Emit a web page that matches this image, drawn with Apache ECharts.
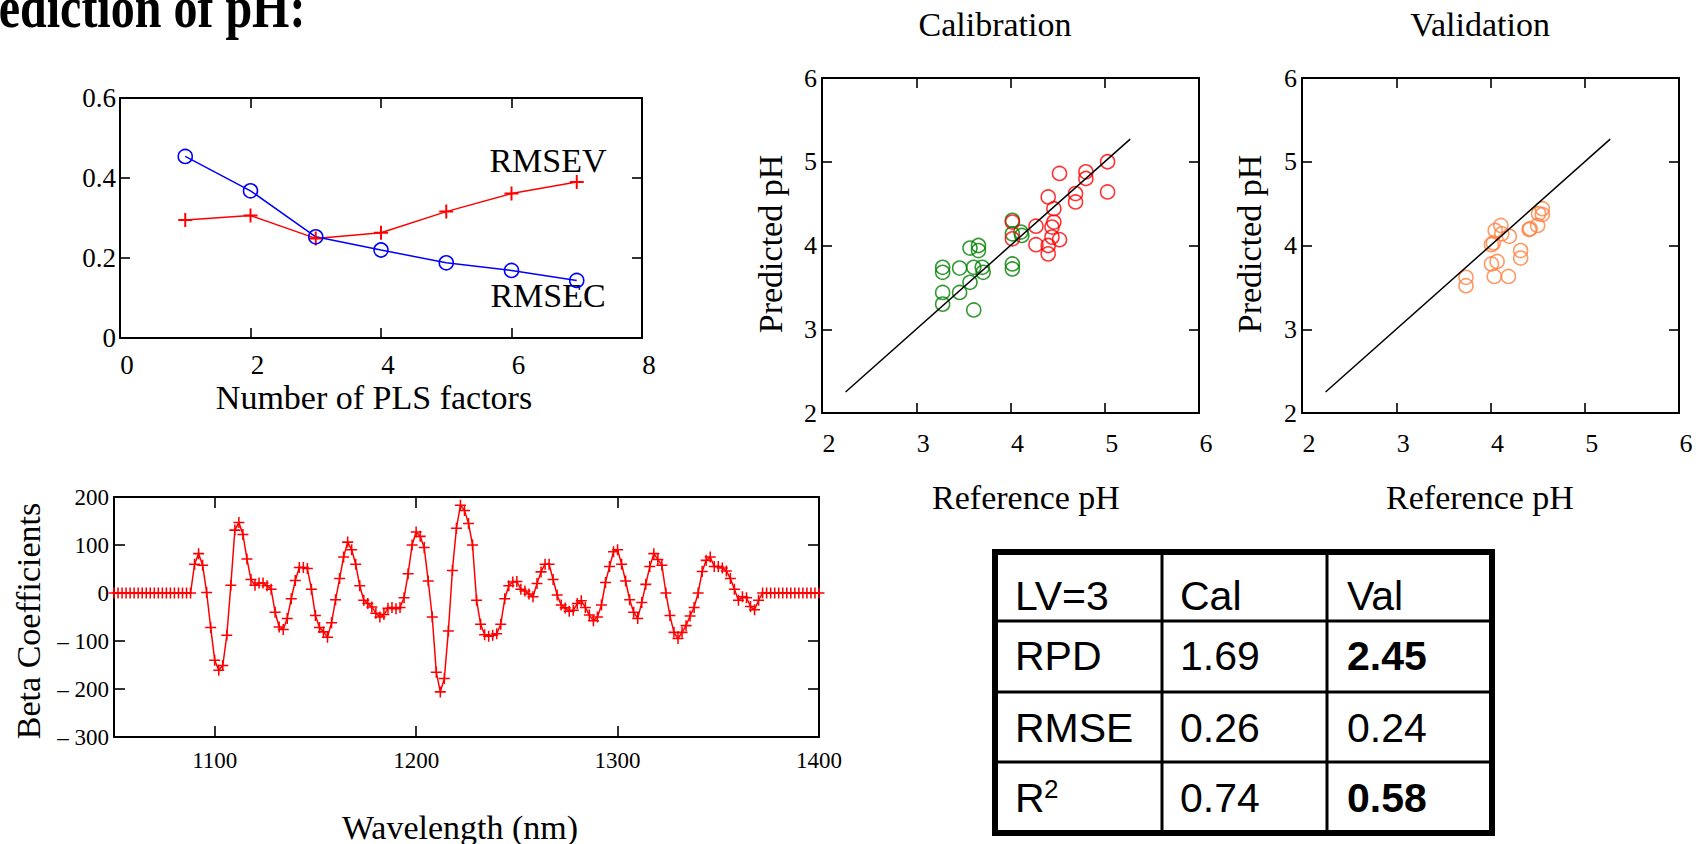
<!DOCTYPE html>
<html><head><meta charset="utf-8">
<script src="https://cdn.jsdelivr.net/npm/echarts@6/dist/echarts.min.js"></script>
<style>html,body{margin:0;padding:0;background:#fff;overflow:hidden}#chart{width:1702px;height:844px}</style>
</head><body><div id="chart"></div>
<script>
// ---------- data ----------
const plsFactors = [1, 2, 3, 4, 5, 6, 7];
const rmsec = [0.454, 0.368, 0.253, 0.220, 0.188, 0.169, 0.144];
const rmsev = [0.295, 0.306, 0.249, 0.263, 0.316, 0.361, 0.390];

const wavelengths = [
  1050,1052,1054,1056,1058,1060,1062,1064,1066,1068,
  1070,1072,1074,1076,1078,1080,1082,1084,1086,1088,
  1090,1092,1094,1096,1098,1100,1102,1104,1106,1108,
  1110,1112,1114,1116,1118,1120,1122,1124,1126,1128,
  1130,1132,1134,1136,1138,1140,1142,1144,1146,1148,
  1150,1152,1154,1156,1158,1160,1162,1164,1166,1168,
  1170,1172,1174,1176,1178,1180,1182,1184,1186,1188,
  1190,1192,1194,1196,1198,1200,1202,1204,1206,1208,
  1210,1212,1214,1216,1218,1220,1222,1224,1226,1228,
  1230,1232,1234,1236,1238,1240,1242,1244,1246,1248,
  1250,1252,1254,1256,1258,1260,1262,1264,1266,1268,
  1270,1272,1274,1276,1278,1280,1282,1284,1286,1288,
  1290,1292,1294,1296,1298,1300,1302,1304,1306,1308,
  1310,1312,1314,1316,1318,1320,1322,1324,1326,1328,
  1330,1332,1334,1336,1338,1340,1342,1344,1346,1348,
  1350,1352,1354,1356,1358,1360,1362,1364,1366,1368,
  1370,1372,1374,1376,1378,1380,1382,1384,1386,1388,
  1390,1392,1394,1396,1398,1400
];
const betaCoefficients = [
  0,0,0,0,0,0,0,0,0,0,
  0,0,0,0,0,0,0,0,0,0,
  60,82,58,1,-72,-140,-161,-151,-88,16,
  131,147,122,71,28,16,21,21,15,8,
  -40,-71,-76,-53,-12,26,53,53,51,8,
  -47,-72,-81,-92,-62,-14,30,75,106,90,
  60,15,-15,-22,-29,-42,-50,-45,-32,-30,
  -33,-30,-10,40,100,127,118,95,25,-50,
  -165,-206,-178,-79,47,135,183,172,145,100,
  -15,-65,-87,-90,-88,-85,-65,-12,15,23,
  24,8,4,-2,-8,20,44,60,60,28,
  -4,-25,-31,-38,-36,-22,-16,-30,-46,-58,
  -50,-25,22,55,86,90,60,25,-14,-40,
  -53,-20,18,55,82,70,58,0,-47,-82,
  -95,-82,-68,-48,-30,0,45,68,75,55,
  55,52,46,30,8,-15,-8,-10,-28,-35,
  -15,0,0,0,0,0,0,0,0,0,
  0,0,0,0,0,0
];

// calibration set (green = low pH group, red = high pH group)
const calGreenRef  = [3.28,3.28,3.28,3.28,3.46,3.46,3.57,3.57,3.61,3.61,3.66,3.66,3.70,3.71,4.02,4.02,4.02,4.02,4.11,4.12];
const calGreenPred = [3.74,3.68,3.44,3.30,3.73,3.44,3.56,3.97,3.23,3.74,4.00,3.94,3.74,3.68,4.30,4.14,3.78,3.72,4.16,4.12];
const calRedRef    = [4.02,4.02,4.27,4.27,4.40,4.40,4.40,4.46,4.46,4.44,4.44,4.52,4.52,4.69,4.69,4.80,4.80,5.03,5.03];
const calRedPred   = [4.28,4.08,4.23,4.01,4.58,3.90,4.00,4.44,4.28,4.22,4.10,4.86,4.07,4.62,4.52,4.88,4.80,5.00,4.64];
// validation set
const valRef  = [3.74,3.74,4.01,4.03,4.01,4.07,4.04,4.05,4.11,4.12,4.20,4.19,4.32,4.32,4.41,4.42,4.50,4.51,4.55,4.55];
const valPred = [3.62,3.52,4.01,4.03,3.78,3.81,3.63,4.18,4.24,4.14,4.11,3.63,3.94,3.85,4.19,4.20,4.24,4.38,4.44,4.37];
// 1:1 line ends
const identityLine = [2.25, 5.27];

// table
const tableHeader = ['LV=3', 'Cal', 'Val'];
const tableRowNames = ['RPD', 'RMSE', 'R'];
const tableCal = ['1.69', '0.26', '0.74'];
const tableVal = ['2.45', '0.24', '0.58'];
const tableValBold = [true, false, true];

// ---------- helpers ----------
const SERIF = 'Liberation Serif';
const SANS = 'Liberation Sans';
const PLUS = 'path://M4.3,0H5.7V4.3H10V5.7H5.7V10H4.3V5.7H0V4.3H4.3Z';
const zip = (a, b) => a.map((v, i) => [v, b[i]]);

function axisPair(kind, gridIndex, cfg) {
  const common = {
    type: 'value', gridIndex, min: cfg.min, max: cfg.max,
    splitLine: { show: false },
    axisLine: { show: true, onZero: false, lineStyle: { color: '#000', width: 2 } },
    axisTick: { show: true, inside: true, length: cfg.tick || 10, lineStyle: { color: '#000', width: 1.6 } }
  };
  if (cfg.interval != null) common.interval = cfg.interval;
  if (cfg.tickValues) common.axisTick.customValues = cfg.tickValues;
  const fmt = cfg.fmt || (v => String(v));
  const main = Object.assign({}, common, {
    position: kind === 'x' ? 'bottom' : 'left',
    axisLabel: Object.assign({
      show: true, color: '#000', fontFamily: SERIF, fontSize: cfg.fontSize, margin: cfg.margin,
      showMinLabel: true, showMaxLabel: true,
      formatter: v => '{s|' + fmt(v) + '}',
      rich: { s: { fontFamily: SERIF, fontSize: cfg.fontSize, color: '#000' } }
    }, cfg.labelExtra || {})
  });
  const mirror = Object.assign({}, common, {
    position: kind === 'x' ? 'top' : 'right',
    axisLabel: { show: false }
  });
  mirror.axisTick = Object.assign({}, common.axisTick);
  return [main, mirror];
}

const xAxes = [].concat(
  axisPair('x', 0, { min: 0, max: 8, interval: 2, fontSize: 27, margin: 13, labelExtra: { padding: [0, 0, 0, 14] } }),
  axisPair('x', 1, { min: 1050, max: 1400, fontSize: 23, margin: 12, tick: 11,
    tickValues: [1100, 1200, 1300], labelExtra: { customValues: [1100, 1200, 1300, 1400] } }),
  axisPair('x', 2, { min: 2, max: 6, interval: 1, fontSize: 26, margin: 17, labelExtra: { padding: [0, 0, 0, 14] } }),
  axisPair('x', 3, { min: 2, max: 6, interval: 1, fontSize: 26, margin: 17, labelExtra: { padding: [0, 0, 0, 14] } })
);
const yAxes = [].concat(
  axisPair('y', 0, { min: 0, max: 0.6, interval: 0.2, fontSize: 27, margin: 4 }),
  axisPair('y', 1, { min: -300, max: 200, interval: 100, fontSize: 23, margin: 5, tick: 11,
    fmt: v => v < 0 ? '\u2013 ' + Math.abs(v) : String(v) }),
  axisPair('y', 2, { min: 2, max: 6, interval: 1, fontSize: 26, margin: 5 }),
  axisPair('y', 3, { min: 2, max: 6, interval: 1, fontSize: 26, margin: 5 })
);

function txt(text, x, y, size, extra) {
  return Object.assign({
    type: 'text', x, y,
    style: { text, fill: '#000', fontFamily: SERIF, fontSize: size, align: 'center', verticalAlign: 'middle' }
  }, extra || {});
}

// table graphics built from the table arrays
const tbl = { left: 992, right: 1495, top: 549, bottom: 836, cols: [992, 1162, 1327, 1495], rows: [549, 621, 692, 762, 836],
  textX: [1015, 1180, 1347], textY: [596, 656, 728, 798] };
const tableGraphics = [];
tableGraphics.push({ type: 'rect', shape: { x: tbl.left + 3, y: tbl.top + 3, width: tbl.right - tbl.left - 6, height: tbl.bottom - tbl.top - 6 },
  style: { fill: '#fff', stroke: '#000', lineWidth: 6 } });
[tbl.cols[1], tbl.cols[2]].forEach(cx => tableGraphics.push({ type: 'line', shape: { x1: cx, y1: tbl.top, x2: cx, y2: tbl.bottom }, style: { stroke: '#000', lineWidth: 3 } }));
[tbl.rows[1], tbl.rows[2], tbl.rows[3]].forEach(ry => tableGraphics.push({ type: 'line', shape: { x1: tbl.left, y1: ry, x2: tbl.right, y2: ry }, style: { stroke: '#000', lineWidth: 3 } }));
function cell(text, col, row, bold) {
  return { type: 'text', x: tbl.textX[col], y: tbl.textY[row],
    style: { text, fill: '#000', fontFamily: SANS, fontSize: 41, fontWeight: bold ? 'bold' : 'normal', align: 'left', verticalAlign: 'middle' } };
}
tableHeader.forEach((h, i) => tableGraphics.push(cell(h, i, 0, false)));
tableRowNames.forEach((n, r) => {
  tableGraphics.push(cell(n, 0, r + 1, false));
  tableGraphics.push(cell(tableCal[r], 1, r + 1, false));
  tableGraphics.push(cell(tableVal[r], 2, r + 1, tableValBold[r]));
});
tableGraphics.push({ type: 'text', x: 1044, y: 789, style: { text: '2', fill: '#000', fontFamily: SANS, fontSize: 26, align: 'left', verticalAlign: 'middle' } });

const option = {
  animation: false,
  backgroundColor: '#fff',
  textStyle: { fontFamily: SERIF },
  grid: [
    { left: 120, top: 98, width: 522, height: 240 },
    { left: 114, top: 497, width: 705, height: 240 },
    { left: 822, top: 78, width: 377, height: 335 },
    { left: 1302, top: 78, width: 377, height: 335 }
  ],
  xAxis: xAxes,
  yAxis: yAxes,
  series: [
    { type: 'line', name: 'RMSEV', xAxisIndex: 0, yAxisIndex: 0, data: zip(plsFactors, rmsev),
      symbol: PLUS, symbolSize: 14, lineStyle: { color: '#ff0000', width: 1.5 }, itemStyle: { color: '#ff0000' } },
    { type: 'line', name: 'RMSEC', xAxisIndex: 0, yAxisIndex: 0, data: zip(plsFactors, rmsec),
      symbol: 'circle', symbolSize: 14, lineStyle: { color: '#0000ff', width: 1.5 },
      itemStyle: { color: 'transparent', borderColor: '#0000ff', borderWidth: 1.6 } },
    { type: 'line', name: 'Beta', xAxisIndex: 2, yAxisIndex: 2, data: zip(wavelengths, betaCoefficients),
      symbol: PLUS, symbolSize: 11, lineStyle: { color: '#ff0000', width: 1.5 }, itemStyle: { color: '#ff0000' } },
    { type: 'line', xAxisIndex: 4, yAxisIndex: 4, data: zip(identityLine, identityLine), symbol: 'none',
      lineStyle: { color: '#000', width: 1.5 } },
    { type: 'scatter', xAxisIndex: 4, yAxisIndex: 4, data: zip(calGreenRef, calGreenPred), symbol: 'circle', symbolSize: 14,
      itemStyle: { color: 'transparent', borderColor: '#008000', borderWidth: 1.6 } },
    { type: 'scatter', xAxisIndex: 4, yAxisIndex: 4, data: zip(calRedRef, calRedPred), symbol: 'circle', symbolSize: 14,
      itemStyle: { color: 'transparent', borderColor: '#ff0000', borderWidth: 1.6 } },
    { type: 'line', xAxisIndex: 6, yAxisIndex: 6, data: zip(identityLine, identityLine), symbol: 'none',
      lineStyle: { color: '#000', width: 1.5 } },
    { type: 'scatter', xAxisIndex: 6, yAxisIndex: 6, data: zip(valRef, valPred), symbol: 'circle', symbolSize: 14,
      itemStyle: { color: 'transparent', borderColor: '#ff8040', borderWidth: 1.6 } }
  ],
  graphic: [
    { type: 'text', x: -51, y: 7, scaleY: 1.25, style: { text: 'Prediction of pH:', fill: '#000', fontFamily: SERIF, fontSize: 48, fontWeight: 'bold', align: 'left', verticalAlign: 'middle' } },
    txt('Number of PLS factors', 374, 397, 34),
    txt('RMSEV', 548, 160, 34),
    txt('RMSEC', 548, 295, 34),
    txt('Beta Coefficients', 28, 621, 34, { rotation: Math.PI / 2 }),
    txt('Wavelength (nm)', 460, 827, 34),
    txt('Calibration', 995, 24, 34),
    txt('Validation', 1480, 24, 34),
    txt('Predicted pH', 770, 244, 34, { rotation: Math.PI / 2 }),
    txt('Predicted pH', 1249, 244, 34, { rotation: Math.PI / 2 }),
    txt('Reference pH', 1026, 497, 34),
    txt('Reference pH', 1480, 497, 34)
  ].concat(tableGraphics)
};

const chart = echarts.init(document.getElementById('chart'), null, { renderer: 'svg' });
chart.setOption(option);
</script></body></html>
